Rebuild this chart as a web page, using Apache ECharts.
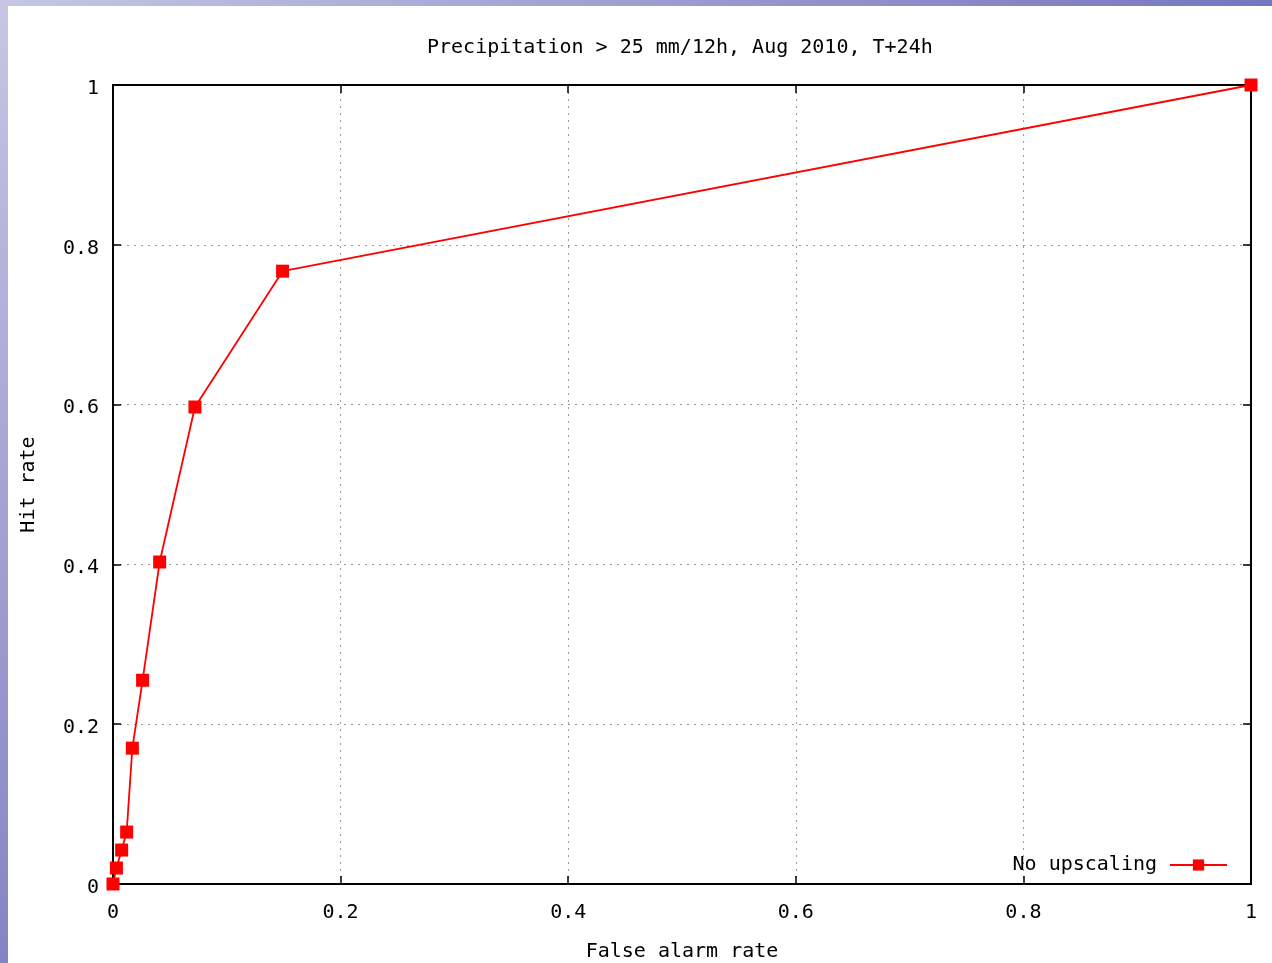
<!DOCTYPE html>
<html>
<head>
<meta charset="utf-8">
<script src="https://cdn.jsdelivr.net/npm/echarts@6/dist/echarts.min.js"></script>
<style>
html,body{margin:0;padding:0;background:#fff;}
#chart{width:1272px;height:963px;}
</style>
</head>
<body>
<div id="chart"></div>
<script>
const titleText = 'Precipitation > 25 mm/12h, Aug 2010, T+24h';
const xAxisName = 'False alarm rate';
const yAxisName = 'Hit rate';
const seriesName = 'No upscaling';
const falseAlarmRate = [0, 0.003, 0.0076, 0.012, 0.017, 0.026, 0.041, 0.072, 0.149, 1];
const hitRate = [0, 0.02, 0.0425, 0.065, 0.17, 0.255, 0.403, 0.597, 0.767, 1];

const chart = echarts.init(document.getElementById('chart'), null, {renderer: 'canvas'});
const font = 'DejaVu Sans Mono';
const points = falseAlarmRate.map((x, i) => [x, hitRate[i]]);

const gridSplit = {show: true, lineStyle: {color: '#9a9a9a', type: [2, 5], width: 1}};
const blackLine = {show: true, onZero: false, lineStyle: {color: '#000', width: 2}};
const tickIn = {show: true, inside: true, length: 8, lineStyle: {color: '#000', width: 1.5}};

chart.setOption({
  animation: false,
  backgroundColor: '#fff',
  graphic: [
    {type: 'rect', shape: {x: 0, y: 0, width: 1272, height: 6}, z: 100,
     style: {fill: new echarts.graphic.LinearGradient(0, 0, 1, 0, [{offset: 0, color: '#c6c6e4'}, {offset: 1, color: '#7676be'}])}},
    {type: 'rect', shape: {x: 0, y: 0, width: 8, height: 963}, z: 100,
     style: {fill: new echarts.graphic.LinearGradient(0, 0, 0, 1, [{offset: 0, color: '#c6c6e4'}, {offset: 1, color: '#8484c4'}])}}
  ],
  title: {
    text: titleText, left: 422, top: 33,
    textStyle: {fontFamily: font, fontSize: 20, fontWeight: 'normal', color: '#000'}
  },
  legend: {
    right: 39, bottom: 83, orient: 'horizontal', align: 'right',
    itemWidth: 57, itemHeight: 14, itemGap: 10,
    textStyle: {fontFamily: font, fontSize: 20, color: '#000', padding: [0, 8, 0, 0]},
    data: [seriesName]
  },
  grid: {left: 113, right: 21, top: 85, bottom: 79, outerBoundsMode: 'none', containLabel: false,
         show: true, borderColor: '#000', borderWidth: 2, backgroundColor: 'transparent'},
  xAxis: [
    {type: 'value', min: 0, max: 1, interval: 0.2, position: 'bottom',
     name: xAxisName, nameLocation: 'middle', nameGap: 58,
     nameTextStyle: {fontFamily: font, fontSize: 20, color: '#000'},
     axisLine: blackLine, axisTick: tickIn, splitLine: gridSplit,
     axisLabel: {fontFamily: font, fontSize: 20, color: '#000', margin: 19}},
    {type: 'value', min: 0, max: 1, interval: 0.2, position: 'top',
     axisLine: blackLine, axisTick: tickIn, splitLine: {show: false}, axisLabel: {show: false}}
  ],
  yAxis: [
    {type: 'value', min: 0, max: 1, interval: 0.2, position: 'left',
     name: yAxisName, nameLocation: 'middle', nameGap: 74,
     nameTextStyle: {fontFamily: font, fontSize: 20, color: '#000'},
     axisLine: blackLine, axisTick: tickIn, splitLine: gridSplit,
     axisLabel: {fontFamily: font, fontSize: 20, color: '#000', margin: 14,
                 formatter: '{a|{value}}',
                 rich: {a: {fontFamily: font, fontSize: 20, color: '#000', padding: [7, 0, 0, 0]}}}},
    {type: 'value', min: 0, max: 1, interval: 0.2, position: 'right',
     axisLine: blackLine, axisTick: tickIn, splitLine: {show: false}, axisLabel: {show: false}}
  ],
  series: [{
    name: seriesName, type: 'line', data: points,
    symbol: 'rect', symbolSize: 13, showSymbol: true,
    lineStyle: {color: '#ff0000', width: 1.8},
    itemStyle: {color: '#ff0000'},
    clip: false, z: 5
  }]
});
</script>
</body>
</html>
